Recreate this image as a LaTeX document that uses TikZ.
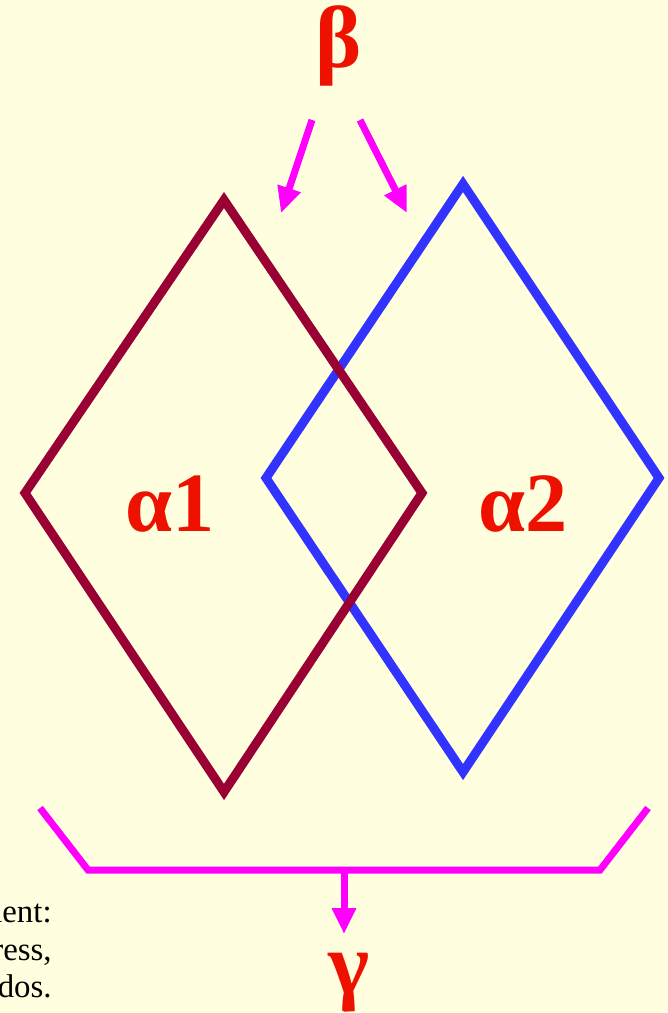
\documentclass[tikz,border=0pt]{standalone}
\usepackage{fontspec}
\setmainfont{Liberation Serif}
\usetikzlibrary{arrows.meta}
\definecolor{bg}{HTML}{FFFFE0}
\definecolor{wine}{HTML}{990033}
\definecolor{blu}{HTML}{3333FF}
\definecolor{mag}{HTML}{FF00FF}
\definecolor{lbl}{HTML}{EE1100}
\tikzset{
  rhomb/.style={line width=0.18cm, line join=miter},
  magline/.style={mag, line width=0.14cm},
  magarrow/.style={magline, -{Triangle[length=0.52cm, width=0.46cm]}},
  biglabel/.style={lbl, inner sep=0pt, anchor=base, font=\fontsize{48}{58}\selectfont\bfseries},
  greeklabel/.style={lbl, inner sep=0pt, anchor=base, font=\fontsize{50}{60}\selectfont\bfseries},
  sidetext/.style={black, inner sep=0pt, anchor=base east, font=\fontsize{18.7}{22}\selectfont}
}
\begin{document}
\begin{tikzpicture}[x=0.02cm, y=-0.02cm]
\fill[bg] (0,0) rectangle (668,1013);
\useasboundingbox (0,0) rectangle (668,1013);

% diamonds
\coordinate (bT) at (463,184);
\coordinate (bR) at (659,478);
\coordinate (bB) at (463,772);
\coordinate (bL) at (266,478);
\coordinate (rT) at (224,200);
\coordinate (rR) at (422,493);
\coordinate (rB) at (224,792);
\coordinate (rL) at (25,493);
\draw[rhomb, blu] (bT) -- (bR) -- (bB) -- (bL) -- cycle;
\draw[rhomb, wine] (rT) -- (rR) -- (rB) -- (rL) -- cycle;

% labels
\node[biglabel] (a1) at (170,531) {α1};
\node[biglabel] (a2) at (523,531) {α2};
\node[greeklabel] (beta) at (339,68) {β};
\node[greeklabel] (gamma) at (349,993) {γ};

% arrows from beta
\coordinate (s1) at (312,120);
\coordinate (e1) at (281,213);
\coordinate (s2) at (360,120);
\coordinate (e2) at (407,213);
\draw[magarrow] (s1) -- (e1);
\draw[magarrow] (s2) -- (e2);

% bracket
\coordinate (gL) at (40,808);
\coordinate (gBL) at (88,870);
\coordinate (gBR) at (600,870);
\coordinate (gR) at (648,808);
\coordinate (gS) at (344,870);
\coordinate (gE) at (344,934);
\draw[magline] (gL) -- (gBL) -- (gBR) -- (gR);
\draw[magarrow] (gS) -- (gE);

% side text, cut at the left edge as in the reference
\node[sidetext] (t1) at (52,922) {ment:};
\node[sidetext] (t2) at (52,960) {ress,};
\node[sidetext] (t3) at (52,997) {dos.};
\end{tikzpicture}
\end{document}
